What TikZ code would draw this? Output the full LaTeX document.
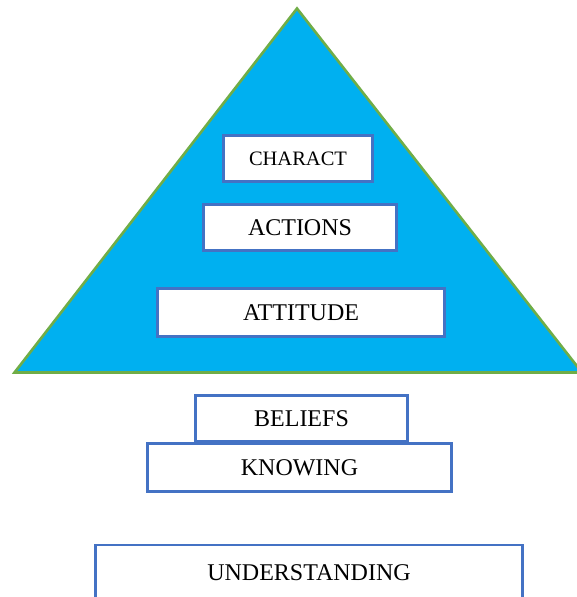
\documentclass[tikz,border=0pt]{standalone}
\usepackage{fontspec}
\setmainfont{Liberation Serif}
\definecolor{triblue}{HTML}{00B0F0}
\definecolor{trigreen}{HTML}{70AD47}
\definecolor{boxblue}{HTML}{4472C4}
\tikzset{
  lbox/.style={draw=boxblue, line width=2.4pt, fill=white, inner sep=0pt, font=\fontsize{24}{26}\selectfont},
  tri/.style={fill=triblue, draw=trigreen, line width=2.6pt, line join=miter}
}
\begin{document}
\begin{tikzpicture}[x=1pt,y=-1pt]
\useasboundingbox (0,0) rectangle (577,597);
\clip (0,0) rectangle (577,597);
\fill[white] (0,0) rectangle (577,597);
\coordinate (apex) at (297,8.5);
\coordinate (bl) at (14.5,372.5);
\coordinate (br) at (582,372.5);
\draw[tri] (apex) -- (br) -- (bl) -- cycle;
\node[lbox, minimum width=149pt, minimum height=46pt, font=\fontsize{20.5}{24}\selectfont] (charact) at (298,158.5) {CHARACT};
\node[lbox, minimum width=193pt, minimum height=46pt] (actions) at (300,227.5) {ACTIONS};
\node[lbox, minimum width=287pt, minimum height=48pt] (attitude) at (301,312.5) {ATTITUDE};
\node[lbox, minimum width=212pt, minimum height=46pt] (beliefs) at (301.5,418.5) {BELIEFS};
\node[lbox, minimum width=304pt, minimum height=48pt] (knowing) at (299.5,467.5) {KNOWING};
\node[lbox, minimum width=427pt, minimum height=56pt] (understanding) at (309,573) {UNDERSTANDING};
\end{tikzpicture}
\end{document}
